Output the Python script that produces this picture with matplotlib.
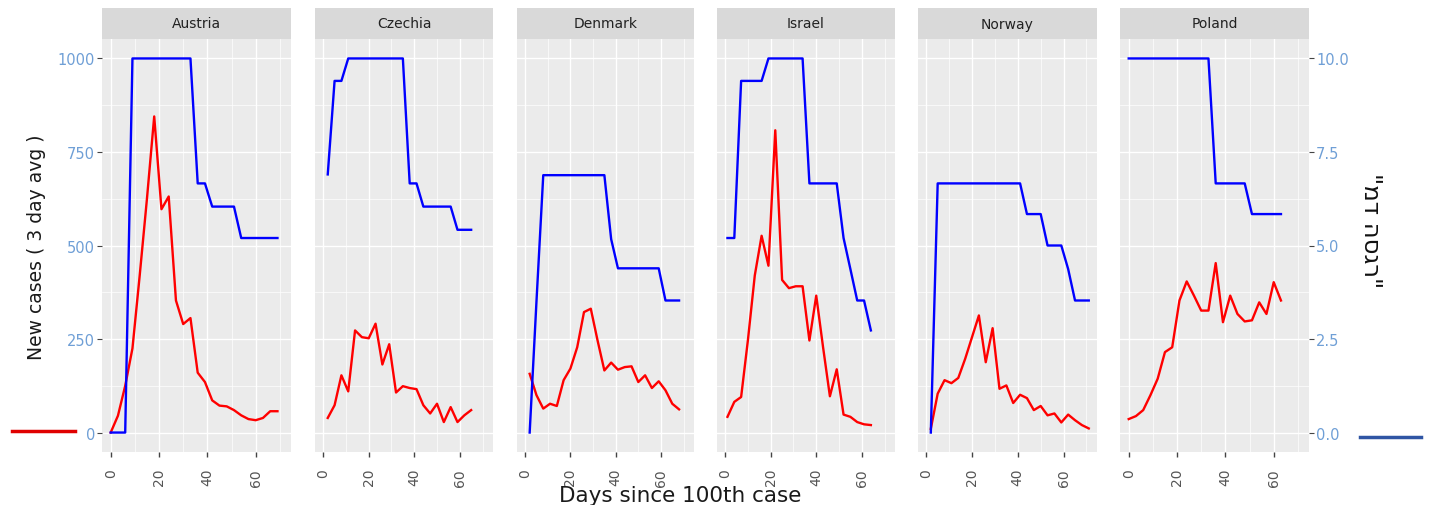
import matplotlib.pyplot as plt
from matplotlib.lines import Line2D
from matplotlib.ticker import MultipleLocator, FixedLocator, FormatStrFormatter

# === Data ===
countries = ["Austria", "Czechia", "Denmark", "Israel", "Norway", "Poland"]

# days since 100th case (3-day steps)
austria_days = [0, 3, 6, 9, 12, 15, 18, 21, 24, 27, 30, 33, 36, 39, 42, 45, 48, 51, 54, 57, 60, 63, 66, 69]
czechia_days = [2, 5, 8, 11, 14, 17, 20, 23, 26, 29, 32, 35, 38, 41, 44, 47, 50, 53, 56, 59, 62, 65]
denmark_days = [2, 5, 8, 11, 14, 17, 20, 23, 26, 29, 32, 35, 38, 41, 44, 47, 50, 53, 56, 59, 62, 65, 68]
israel_days = [1, 4, 7, 10, 13, 16, 19, 22, 25, 28, 31, 34, 37, 40, 43, 46, 49, 52, 55, 58, 61, 64]
norway_days = [2, 5, 8, 11, 14, 17, 20, 23, 26, 29, 32, 35, 38, 41, 44, 47, 50, 53, 56, 59, 62, 65, 68, 71]
poland_days = [0, 3, 6, 9, 12, 15, 18, 21, 24, 27, 30, 33, 36, 39, 42, 45, 48, 51, 54, 57, 60, 63]

# new cases (3 day avg) - red
austria_cases = [0, 45, 125, 225, 420, 625, 845, 597, 631, 353, 290, 306, 160, 135, 86, 72, 70, 60, 46, 36, 33, 39, 57, 57]
czechia_cases = [39, 73, 153, 110, 273, 255, 252, 291, 182, 236, 107, 124, 119, 116, 73, 51, 77, 28, 68, 28, 46, 60]
denmark_cases = [157, 100, 64, 77, 71, 140, 171, 228, 322, 331, 246, 166, 187, 168, 175, 177, 135, 153, 119, 137, 113, 77, 62]
israel_cases = [42, 82, 95, 248, 420, 526, 446, 808, 408, 386, 391, 391, 246, 366, 228, 97, 169, 48, 42, 28, 22, 20]
norway_cases = [10, 104, 140, 132, 146, 197, 255, 313, 188, 279, 117, 126, 79, 101, 92, 60, 71, 46, 51, 27, 48, 33, 20, 11]
poland_cases = [36, 44, 60, 100, 144, 215, 228, 353, 404, 366, 326, 326, 453, 295, 366, 317, 297, 300, 348, 317, 402, 353]

# lockdown index (0-10) - blue, right axis
austria_lock = [0, 0, 0, 10, 10, 10, 10, 10, 10, 10, 10, 10, 6.66, 6.66, 6.04, 6.04, 6.04, 6.04, 5.2, 5.2, 5.2, 5.2, 5.2, 5.2]
czechia_lock = [6.9, 9.4, 9.4, 10, 10, 10, 10, 10, 10, 10, 10, 10, 6.66, 6.66, 6.04, 6.04, 6.04, 6.04, 6.04, 5.42, 5.42, 5.42]
denmark_lock = [0, 3.5, 6.88, 6.88, 6.88, 6.88, 6.88, 6.88, 6.88, 6.88, 6.88, 6.88, 5.17, 4.39, 4.39, 4.39, 4.39, 4.39, 4.39, 4.39, 3.53, 3.53, 3.53]
israel_lock = [5.2, 5.2, 9.4, 9.4, 9.4, 9.4, 10, 10, 10, 10, 10, 10, 6.66, 6.66, 6.66, 6.66, 6.66, 5.2, 4.37, 3.53, 3.53, 2.73]
norway_lock = [0, 6.66, 6.66, 6.66, 6.66, 6.66, 6.66, 6.66, 6.66, 6.66, 6.66, 6.66, 6.66, 6.66, 5.84, 5.84, 5.84, 5.0, 5.0, 5.0, 4.37, 3.53, 3.53, 3.53]
poland_lock = [10, 10, 10, 10, 10, 10, 10, 10, 10, 10, 10, 10, 6.66, 6.66, 6.66, 6.66, 6.66, 5.84, 5.84, 5.84, 5.84, 5.84]

lock_ticks = [0, 2.5, 5, 7.5, 10]

all_days = [austria_days, czechia_days, denmark_days, israel_days, norway_days, poland_days]
all_cases = [austria_cases, czechia_cases, denmark_cases, israel_cases, norway_cases, poland_cases]
all_lock = [austria_lock, czechia_lock, denmark_lock, israel_lock, norway_lock, poland_lock]

# === Layout (pixels of a 1429x506 canvas) ===
W, H = 1429, 506
panel_x = [(102, 291), (315, 493), (517, 694), (717, 895), (918, 1097), (1120, 1309)]
strip_top, panel_top, panel_bot = 9, 40, 453

tick_blue = "#6f9fd6"
tick_gray = "#555555"

fig = plt.figure(figsize=(W / 100, H / 100), dpi=100)

for i, (name, x, y, z) in enumerate(zip(countries, all_days, all_cases, all_lock)):
    x0, x1 = panel_x[i]
    ax = fig.add_axes([x0 / W, 1 - panel_bot / H, (x1 - x0) / W, (panel_bot - panel_top) / H])
    ax.set_facecolor("#ebebeb")
    for s in ax.spines.values():
        s.set_visible(False)

    ax.plot(x, y, color="#ff0000", lw=1.7, zorder=3)
    ax.plot(x, [v * 100 for v in z], color="#0000ff", lw=1.7, zorder=3)

    ax.set_xlim(-3.6, 74.6)
    ax.set_ylim(-52, 1052)
    ax.xaxis.set_major_locator(MultipleLocator(20))
    ax.xaxis.set_minor_locator(MultipleLocator(10))
    ax.yaxis.set_major_locator(FixedLocator([0, 250, 500, 750, 1000]))
    ax.yaxis.set_minor_locator(FixedLocator([125, 375, 625, 875]))
    ax.grid(which="major", color="white", lw=1.0)
    ax.grid(which="minor", color="white", lw=0.5)
    ax.set_axisbelow(True)

    ax.tick_params(axis="x", which="major", length=3.5, width=1, color="#444444",
                   labelrotation=90, labelsize=10, labelcolor=tick_gray, pad=8)
    ax.tick_params(which="minor", length=0)
    if i == 0:
        ax.tick_params(axis="y", which="major", length=3.5, color="#444444",
                       labelsize=10.5, labelcolor=tick_blue, pad=1.5)
    else:
        ax.tick_params(axis="y", which="major", length=0, labelleft=False)

    if i == len(countries) - 1:
        sec = ax.secondary_yaxis("right", functions=(lambda v: v / 100, lambda v: v * 100))
        sec.yaxis.set_major_locator(FixedLocator(lock_ticks))
        sec.yaxis.set_minor_locator(FixedLocator([]))
        sec.yaxis.set_major_formatter(FormatStrFormatter("%.1f"))
        sec.spines["right"].set_visible(False)
        sec.tick_params(length=3.5, color="#444444", labelsize=10.5,
                        labelcolor=tick_blue, pad=1.5)

    # facet strip
    sax = fig.add_axes([x0 / W, 1 - panel_top / H, (x1 - x0) / W, (panel_top - strip_top) / H])
    sax.set_facecolor("#d9d9d9")
    sax.set_xticks([])
    sax.set_yticks([])
    for s in sax.spines.values():
        s.set_visible(False)
    sax.text(0.5, 0.5, name, ha="center", va="center", fontsize=10, color="#222222",
             transform=sax.transAxes)

# axis titles
fig.text(37 / W, 1 - 247 / H, "New cases ( 3 day avg )", rotation=90,
         ha="center", va="center", fontsize=13.5, color="#1a1a1a")
fig.text(680 / W, 1 - 496 / H, "Days since 100th case", ha="center", va="center",
         fontsize=15.5, color="#1a1a1a")
fig.text(1371 / W, 1 - 231 / H, '"מד הסגר"', rotation=270, ha="center", va="center",
         fontsize=17.5, color="#111111", family=["DejaVu Sans"])

# little legend keys
fig.add_artist(Line2D([12 / W, 75 / W], [1 - 432 / H, 1 - 432 / H], color="#e00000", lw=2.5))
fig.add_artist(Line2D([1360 / W, 1421 / W], [1 - 438 / H, 1 - 438 / H], color="#2f55a4", lw=2.5))

fig.savefig("out.png", dpi=100)
